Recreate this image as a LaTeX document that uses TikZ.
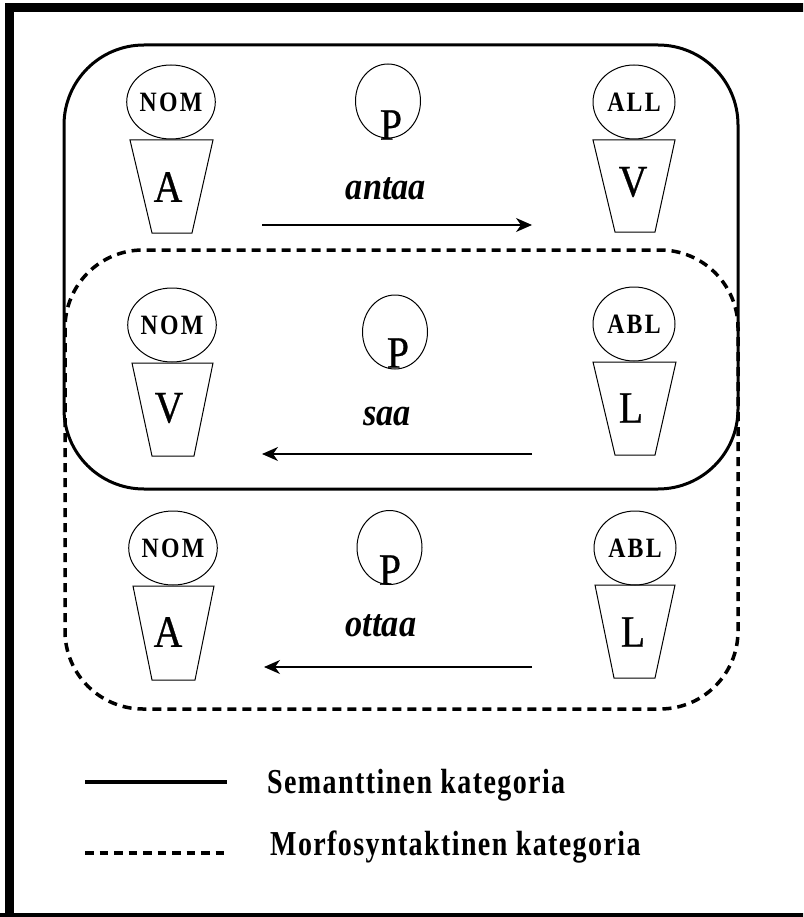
\documentclass[tikz,border=0pt]{standalone}
\usepackage{fontspec}
\usetikzlibrary{shapes.geometric,arrows.meta}
\newfontfamily\figfont[FakeStretch=0.88]{Liberation Serif}
\newfontfamily\letfont[FakeStretch=0.88,FakeBold=0.6]{Liberation Serif}
\newfontfamily\casefont[FakeStretch=0.85,LetterSpace=8]{Liberation Serif}
\newfontfamily\legfont[FakeStretch=0.8,LetterSpace=4]{Liberation Serif}
\begin{document}
\begin{tikzpicture}[x=1pt,y=-1pt,
  caseell/.style={ellipse, draw, line width=1pt, minimum width=82pt, minimum height=74pt, inner sep=0pt,
    font=\casefont\bfseries\fontsize{28}{29}\selectfont},
  pell/.style={ellipse, draw, line width=1pt, minimum width=65pt, minimum height=74pt, inner sep=0pt},
  trap/.style={draw, line width=1pt, line join=miter},
  bigl/.style={inner sep=0pt, font=\letfont\fontsize{45}{47}\selectfont},
  verb/.style={inner sep=0pt, anchor=base, font=\figfont\bfseries\itshape\fontsize{39}{40}\selectfont},
  semline/.style={line width=3pt},
  morline/.style={line width=3.5pt, dash pattern=on 9pt off 6pt},
  legdash/.style={line width=4pt, dash pattern=on 8.5pt off 6pt},
  arr/.style={line width=1.2pt, -{Stealth[length=16pt,width=14pt,inset=5pt]}},
  legtext/.style={anchor=base west, inner sep=0pt, font=\legfont\bfseries\fontsize{35}{37}\selectfont}]
\useasboundingbox (0,0) rectangle (803,917);
\fill[white] (0,0) rectangle (803,917);
\begin{scope}
\clip (0,0) rectangle (803,917);
% outer frame (right side cut off)
\draw[line width=9pt] (9.5,930) -- (9.5,7.5) -- (820,7.5);
\draw[line width=8pt] (0,917) -- (820,917);
\end{scope}

% category outlines
\draw[semline, rounded corners=80pt] (64,45) rectangle (738,489);
\draw[morline, rounded corners=78pt] (65,250) rectangle (738,709);

% ---------- row 1: antaa ----------
\node[caseell] (c1l) at (171,102) {NOM};
\node[pell] (p1) at (388,101) {};
\node[bigl] (p1t) at (391,125) {P};
\node[caseell] (c1r) at (634,102) {ALL};
\draw[trap] (130,140) -- (213,140) -- (192,233) -- (152,233) -- cycle;
\draw[trap] (593,140) -- (675,140) -- (655,232) -- (615,232) -- cycle;
\node[bigl] (l1l) at (168,187) {A};
\node[bigl] (l1r) at (633,182) {V};
\node[verb] (v1) at (386,200) {antaa};
\coordinate (a1s) at (262,225);
\coordinate (a1e) at (532,225);
\draw[arr] (a1s) -- (a1e);

% ---------- row 2: saa ----------
\node[caseell] (c2l) at (172,325) {NOM};
\node[pell] (p2) at (395,332) {};
\node[bigl] (p2t) at (398,353) {P};
\node[caseell] (c2r) at (634,324) {ABL};
\draw[trap] (132,363) -- (213,363) -- (194,456) -- (152,456) -- cycle;
\draw[trap] (593,362) -- (676,362) -- (655,455) -- (615,455) -- cycle;
\node[bigl] (l2l) at (169,408) {V};
\node[bigl] (l2r) at (631,408) {L};
\node[verb] (v2) at (387,425) {saa};
\coordinate (a2s) at (532,454);
\coordinate (a2e) at (262,454);
\draw[arr] (a2s) -- (a2e);

% ---------- row 3: ottaa ----------
\node[caseell] (c3l) at (173,548) {NOM};
\node[pell] (p3) at (389.5,547.5) {};
\node[bigl] (p3t) at (390,570) {P};
\node[caseell] (c3r) at (635,548) {ABL};
\draw[trap] (133,586) -- (214,586) -- (195,680) -- (152,680) -- cycle;
\draw[trap] (595,585) -- (675,585) -- (655,678) -- (614,678) -- cycle;
\node[bigl] (l3l) at (168,632) {A};
\node[bigl] (l3r) at (633,632) {L};
\node[verb] (v3) at (381,636) {ottaa};
\coordinate (a3s) at (532,667);
\coordinate (a3e) at (264,667);
\draw[arr] (a3s) -- (a3e);

% ---------- legend ----------
\coordinate (ls1) at (85,782);
\coordinate (ls2) at (227,782);
\draw[line width=4pt] (ls1) -- (ls2);
\node[legtext] (lt1) at (267,793) {Semanttinen kategoria};
\coordinate (ld1) at (85,853);
\coordinate (ld2) at (227,853);
\draw[legdash] (ld1) -- (ld2);
\node[legtext] (lt2) at (270,855) {Morfosyntaktinen kategoria};
\end{tikzpicture}
\end{document}
